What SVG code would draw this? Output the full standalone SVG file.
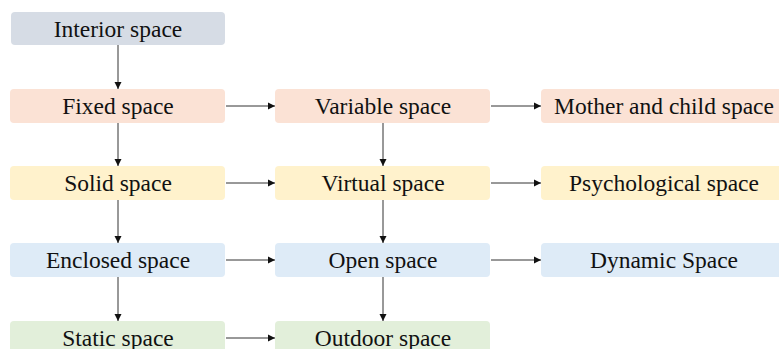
<svg xmlns="http://www.w3.org/2000/svg" width="779" height="349" viewBox="0 0 779 349">
<style>
.box{stroke:none}
.t{font-family:"Liberation Serif","Times New Roman",serif;font-size:23.5px;fill:#111;text-anchor:middle}
.c{stroke:#333;stroke-width:1;fill:none;marker-end:url(#ah)}
.g{fill:#d6dce5}.o{fill:#fbe2d5}.y{fill:#fff2cc}.b{fill:#deebf7}.gr{fill:#e2efda}
</style>
<defs>
<marker id="ah" markerWidth="8" markerHeight="8" refX="7" refY="4" orient="auto" markerUnits="userSpaceOnUse">
<path d="M0,0.5 L7,4 L0,7.5 Z" fill="#111"/>
</marker>
</defs>
<rect width="779" height="349" fill="#fff"/>
<g id="interior"><rect class="box g" x="11" y="12" width="214" height="33" rx="4"/><text class="t" x="118" y="37">Interior space</text></g>
<g id="fixed"><rect class="box o" x="10" y="89" width="215" height="34" rx="4"/><text class="t" x="118" y="114">Fixed space</text></g>
<g id="variable"><rect class="box o" x="275" y="89" width="215" height="34" rx="4"/><text class="t" x="383" y="114">Variable space</text></g>
<g id="mother"><rect class="box o" x="541" y="89" width="250" height="34" rx="4"/><text class="t" x="664" y="114">Mother and child space</text></g>
<g id="solid"><rect class="box y" x="10" y="166" width="215" height="34" rx="4"/><text class="t" x="118" y="191">Solid space</text></g>
<g id="virtual"><rect class="box y" x="275" y="166" width="215" height="34" rx="4"/><text class="t" x="383" y="191">Virtual space</text></g>
<g id="psych"><rect class="box y" x="541" y="166" width="250" height="34" rx="4"/><text class="t" x="664" y="191">Psychological space</text></g>
<g id="enclosed"><rect class="box b" x="10" y="243" width="215" height="34" rx="4"/><text class="t" x="118" y="268">Enclosed space</text></g>
<g id="open"><rect class="box b" x="275" y="243" width="215" height="34" rx="4"/><text class="t" x="383" y="268">Open space</text></g>
<g id="dynamic"><rect class="box b" x="541" y="243" width="250" height="34" rx="4"/><text class="t" x="664" y="268">Dynamic Space</text></g>
<g id="static"><rect class="box gr" x="10" y="321" width="215" height="40" rx="4"/><text class="t" x="118" y="346">Static space</text></g>
<g id="outdoor"><rect class="box gr" x="275" y="321" width="215" height="40" rx="4"/><text class="t" x="383" y="346">Outdoor space</text></g>
<g id="connectors">
<line class="c" x1="118" y1="45" x2="118" y2="89"/>
<line class="c" x1="118" y1="123" x2="118" y2="166"/>
<line class="c" x1="118" y1="200" x2="118" y2="243"/>
<line class="c" x1="118" y1="277" x2="118" y2="321"/>
<line class="c" x1="383" y1="123" x2="383" y2="166"/>
<line class="c" x1="383" y1="200" x2="383" y2="243"/>
<line class="c" x1="383" y1="277" x2="383" y2="321"/>
<line class="c" x1="226" y1="106" x2="275" y2="106"/>
<line class="c" x1="491" y1="106" x2="541" y2="106"/>
<line class="c" x1="226" y1="183" x2="275" y2="183"/>
<line class="c" x1="491" y1="183" x2="541" y2="183"/>
<line class="c" x1="226" y1="260" x2="275" y2="260"/>
<line class="c" x1="491" y1="260" x2="541" y2="260"/>
<line class="c" x1="226" y1="338" x2="275" y2="338"/>
</g>
</svg>
